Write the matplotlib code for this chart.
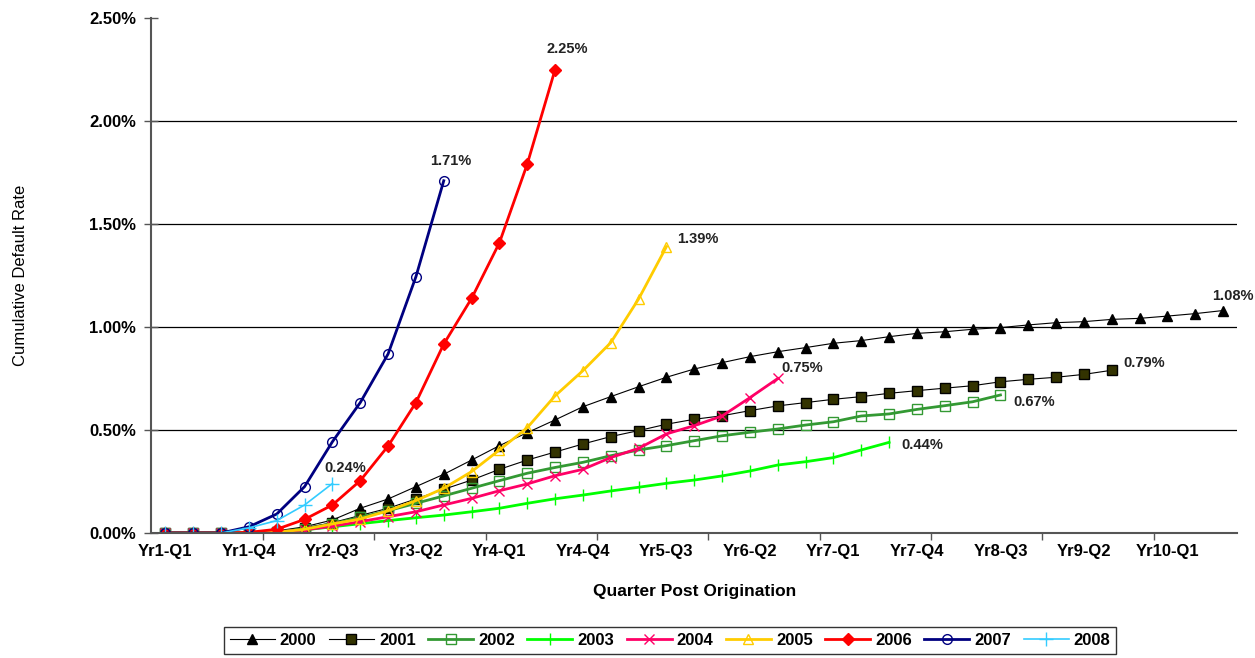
import matplotlib
matplotlib.use("Agg")
import matplotlib.pyplot as plt
from matplotlib.ticker import FuncFormatter, FixedLocator

plt.rcParams['font.family'] = ['Liberation Sans', 'DejaVu Sans']

# quarters post origination: Yr1-Q1 .. Yr10-Q3
n_quarters = 39
tick_labels = ["Yr1-Q1", "Yr1-Q4", "Yr2-Q3", "Yr3-Q2", "Yr4-Q1", "Yr4-Q4", "Yr5-Q3",
               "Yr6-Q2", "Yr7-Q1", "Yr7-Q4", "Yr8-Q3", "Yr9-Q2", "Yr10-Q1"]

# cumulative default rate (%) by vintage
y2000 = [0, 0, 0, 0.002, 0.01, 0.03, 0.063, 0.12, 0.165, 0.225, 0.285, 0.354, 0.424,
         0.487, 0.549, 0.613, 0.662, 0.710, 0.756, 0.796, 0.827, 0.856, 0.880, 0.900,
         0.921, 0.934, 0.953, 0.969, 0.977, 0.989, 0.997, 1.01, 1.021, 1.026, 1.037,
         1.042, 1.053, 1.065, 1.08]
y2001 = [0, 0, 0, 0, 0.005, 0.025, 0.05, 0.085, 0.12, 0.165, 0.212, 0.257, 0.309, 0.354,
         0.393, 0.432, 0.468, 0.497, 0.528, 0.552, 0.569, 0.594, 0.617, 0.633, 0.649,
         0.662, 0.678, 0.691, 0.703, 0.715, 0.734, 0.746, 0.756, 0.770, 0.79]
y2002 = [0, 0, 0, 0, 0.005, 0.02, 0.044, 0.076, 0.108, 0.144, 0.18, 0.217, 0.254, 0.29,
         0.318, 0.343, 0.375, 0.403, 0.424, 0.448, 0.472, 0.489, 0.505, 0.524, 0.540,
         0.568, 0.578, 0.600, 0.618, 0.637, 0.67]
y2003 = [0, 0, 0, 0, 0.003, 0.015, 0.03, 0.045, 0.06, 0.074, 0.087, 0.103, 0.12, 0.144,
         0.166, 0.184, 0.204, 0.222, 0.241, 0.257, 0.277, 0.301, 0.330, 0.346, 0.366,
         0.403, 0.44]
y2004 = [0, 0, 0, 0, 0.005, 0.015, 0.033, 0.055, 0.079, 0.103, 0.136, 0.168, 0.205,
         0.238, 0.278, 0.309, 0.366, 0.411, 0.481, 0.521, 0.568, 0.657, 0.75]
y2005 = [0, 0, 0, 0, 0.003, 0.018, 0.044, 0.068, 0.108, 0.157, 0.217, 0.298, 0.403,
         0.511, 0.666, 0.788, 0.924, 1.136, 1.39]
y2006 = [0, 0, 0, 0.003, 0.018, 0.066, 0.136, 0.254, 0.422, 0.633, 0.917, 1.139, 1.409,
         1.791, 2.25]
y2007 = [0, 0, 0, 0.03, 0.092, 0.225, 0.443, 0.633, 0.869, 1.244, 1.71]
y2008 = [0, 0, 0, 0.025, 0.06, 0.136, 0.24]

vintages = ["2000", "2001", "2002", "2003", "2004", "2005", "2006", "2007", "2008"]
series = [y2000, y2001, y2002, y2003, y2004, y2005, y2006, y2007, y2008]

# style per vintage: line color, lw, marker, marker face, marker edge, marker size
styles = [
    ("black", 0.8, "^", "black", "black", 7),
    ("black", 0.8, "s", "#333300", "black", 7),
    ("#339933", 2.0, "s", "none", "#339933", 7),
    ("#00FF00", 2.0, "|", "#00FF00", "#00FF00", 9),
    ("#FF0066", 2.0, "x", "#FF0066", "#FF0066", 7),
    ("#FFCC00", 2.0, "^", "none", "#FFCC00", 7),
    ("#FF0000", 2.0, "D", "#FF0000", "#FF0000", 6),
    ("#000080", 2.0, "o", "none", "#000080", 7),
    ("#33CCFF", 1.2, "+", "#33CCFF", "#33CCFF", 10),
]

# end label offsets in pixels (dx, dy, ha)
label_offsets = [(10, 15, "center"), (12, 7, "left"), (13, -7, "left"),
                 (12, -3, "left"), (4, 10, "left"), (11, 8, "left"),
                 (12, 21, "center"), (7, 20, "center"), (13, 16, "center")]

fig = plt.figure(figsize=(12.55, 6.58), dpi=100)
ax = fig.add_axes([0.1207, 0.19, 0.865, 0.7826])

for name, vals, st, off in zip(vintages, series, styles, label_offsets):
    color, lw, mk, mfc, mec, ms = st
    xs = list(range(len(vals)))
    ax.plot(xs, vals, color=color, lw=lw, marker=mk, markerfacecolor=mfc,
            markeredgecolor=mec, markersize=ms, markeredgewidth=1.0, label=name)
    ax.annotate(f"{vals[-1]:.2f}%", xy=(xs[-1], vals[-1]), xytext=(off[0], off[1]),
                textcoords="offset pixels", ha=off[2], va="center",
                fontsize=10.5, fontweight="bold", color="#222222")

ax.set_xlim(-0.5, n_quarters - 0.5)
ax.set_ylim(0, 2.5)

ax.set_yticks([0, 0.5, 1.0, 1.5, 2.0, 2.5])
ax.yaxis.set_major_formatter(FuncFormatter(lambda v, p: f"{v:.2f}%"))
for v in [0.5, 1.0, 1.5, 2.0]:
    ax.axhline(v, color="black", lw=0.9, zorder=0)

label_pos = [i * 3 for i in range(len(tick_labels))]
ax.set_xticks(label_pos)
ax.set_xticklabels(tick_labels)
ax.xaxis.set_minor_locator(FixedLocator([-0.5 + 4 * k for k in range(1, 10)]))
ax.tick_params(axis="x", which="major", length=0, pad=8, labelsize=12)
ax.tick_params(axis="x", which="minor", length=5, color="#555555", width=1)
ax.tick_params(axis="y", length=10, direction="inout", color="#555555", width=1,
               labelsize=12, pad=6)
for lab in ax.get_xticklabels() + ax.get_yticklabels():
    lab.set_fontweight("bold")

for s in ["top", "right"]:
    ax.spines[s].set_visible(False)
for s in ["left", "bottom"]:
    ax.spines[s].set_color("#555555")
    ax.spines[s].set_linewidth(1.5)

ax.set_xlabel("Quarter Post Origination", fontsize=12.5, fontweight="bold", labelpad=18)
ax.set_ylabel("Cumulative Default Rate", fontsize=12, labelpad=44)

leg = fig.legend(loc="upper center", bbox_to_anchor=(0.534, 0.047), ncol=9,
                 frameon=True, fancybox=False, edgecolor="black",
                 handlelength=2.7, handletextpad=0.3, columnspacing=0.75,
                 borderpad=0.35, borderaxespad=0,
                 prop={"weight": "bold", "size": 12})
leg.get_frame().set_linewidth(1.0)

fig.savefig("out.png", dpi=100)
